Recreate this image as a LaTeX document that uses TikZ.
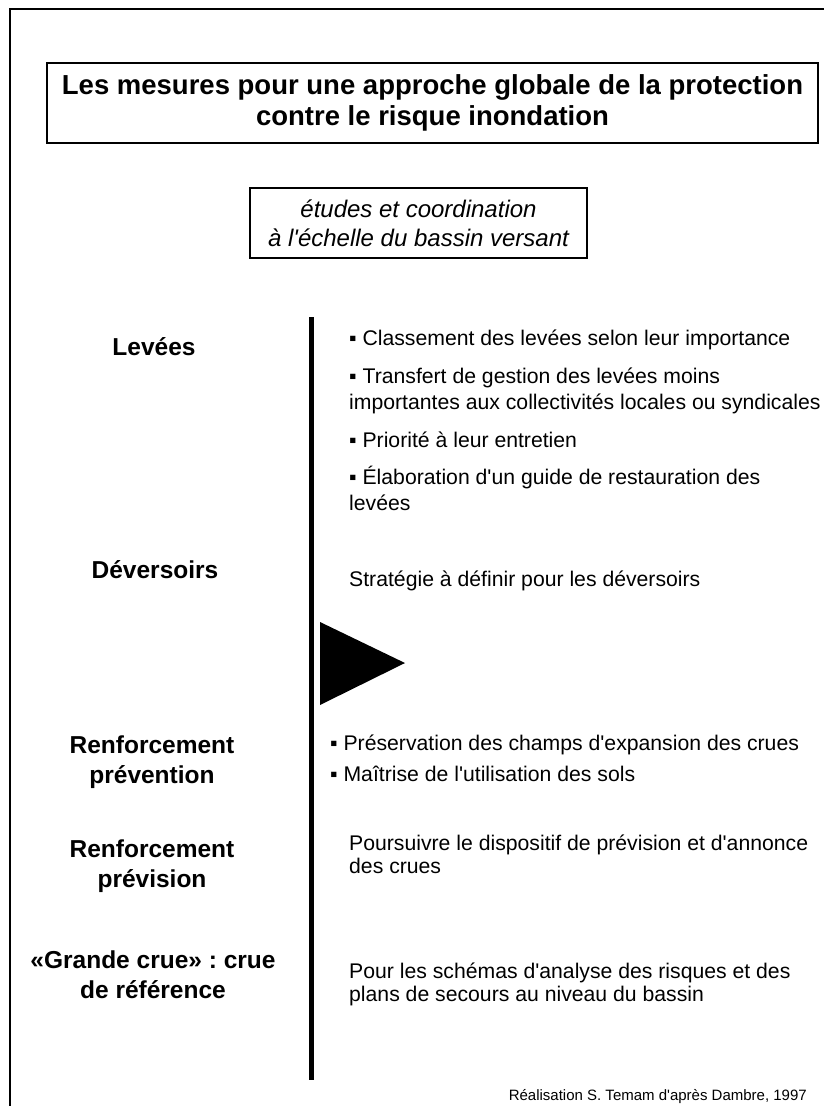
\documentclass[tikz,border=0pt]{standalone}
\usepackage{fontspec}
\setmainfont{Liberation Sans}[Ligatures=TeXOff]
\frenchspacing
\begin{document}
\begin{tikzpicture}[x=1pt, y=-1pt,
    titre/.style={draw, line width=1.4pt, align=center, inner sep=0pt,
      font=\bfseries\fontsize{27.5}{31}\selectfont},
    etude/.style={draw, line width=1.3pt, align=center, inner sep=0pt,
      font=\itshape\fontsize{24}{29}\selectfont},
    lbl/.style={anchor=base, align=center, inner sep=0pt,
      font=\bfseries\fontsize{24.5}{30}\selectfont},
    txt/.style={anchor=base west, align=left, inner sep=0pt,
      font=\fontsize{21.2}{26}\selectfont},
    txtb/.style={txt, font=\fontsize{21.2}{23}\selectfont}]

  \useasboundingbox (0,0) rectangle (824,1106);

  % outer frame (cut off right and bottom)
  \draw[line width=2pt] (10,1106) -- (10,9) -- (824,9);

  % heading boxes
  \node[titre, minimum width=771pt, minimum height=80pt] (titre) at (432.5,103)
    {Les mesures pour une approche globale de la protection\\contre le risque inondation};
  \node[etude, minimum width=337pt, minimum height=70pt] (etudes) at (418.5,223)
    {études et coordination\\à l'échelle du bassin versant};

  % separator and arrow
  \coordinate (axtop) at (311,317);
  \coordinate (axbot) at (311,1080);
  \draw[line width=5pt] (axtop) -- (axbot);
  \fill (320,622) -- (320,705) -- (405,663) -- cycle;

  % left column (base = last line)
  \node[lbl] (levees) at (154,355) {Levées};
  \node[lbl] (deversoirs) at (155,578) {Déversoirs};
  \node[lbl] (prevention) at (152,783) {Renforcement\\prévention};
  \node[lbl] (prevision) at (152,887) {Renforcement\\prévision};
  \node[lbl] (grandecrue) at (153,998) {«Grande crue» : crue\\de référence};

  % right column (base = last line)
  \node[txt] (classement) at (349,345) {▪ Classement des levées selon leur importance};
  \node[txt] (transfert) at (349,409) {▪ Transfert de gestion des levées moins\\importantes aux collectivités locales ou syndicales};
  \node[txt] (priorite) at (349,447) {▪ Priorité à leur entretien};
  \node[txt] (guide) at (349,510) {▪ Élaboration d'un guide de restauration des\\levées};
  \node[txt] (strategie) at (349,586) {Stratégie à définir pour les déversoirs};
  \node[txt] (champs) at (330,750) {▪ Préservation des champs d'expansion des crues};
  \node[txt] (sols) at (330,781) {▪ Maîtrise de l'utilisation des sols};
  \node[txtb] (annonce) at (349,873) {Poursuivre le dispositif de prévision et d'annonce\\des crues};
  \node[txtb] (secours) at (349,1001) {Pour les schémas d'analyse des risques et des\\plans de secours au niveau du bassin};

  \node[anchor=base east, inner sep=0pt, font=\fontsize{15}{18}\selectfont] (source)
    at (807,1100) {Réalisation S. Temam d'après Dambre, 1997};

\end{tikzpicture}
\end{document}
